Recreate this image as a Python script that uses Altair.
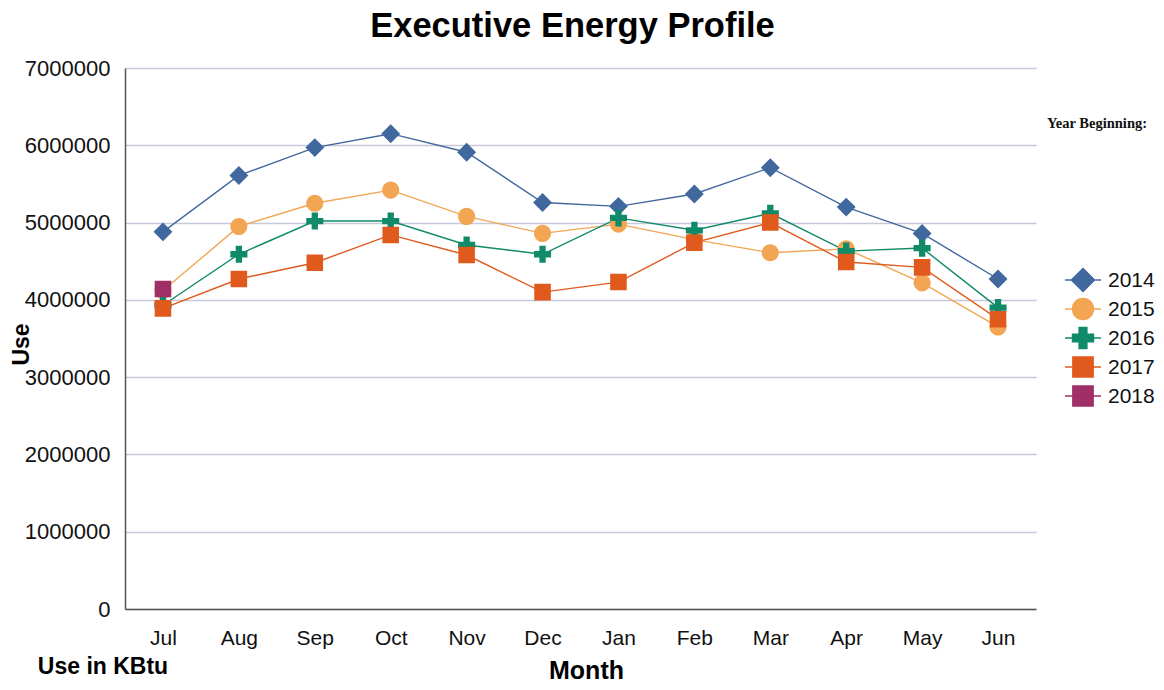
import altair as alt
import pandas as pd

months = ["Jul", "Aug", "Sep", "Oct", "Nov", "Dec", "Jan", "Feb", "Mar", "Apr", "May", "Jun"]
years = ["2014", "2015", "2016", "2017", "2018"]
use_2014 = [4880000, 5610000, 5970000, 6150000, 5910000, 5260000, 5210000, 5370000, 5710000, 5200000, 4860000, 4270000]
use_2015 = [4120000, 4950000, 5250000, 5420000, 5080000, 4860000, 4980000, 4780000, 4610000, 4660000, 4220000, 3650000]
use_2016 = [3930000, 4590000, 5020000, 5020000, 4710000, 4590000, 5060000, 4900000, 5120000, 4630000, 4670000, 3900000]
use_2017 = [3890000, 4270000, 4480000, 4840000, 4580000, 4100000, 4230000, 4740000, 5000000, 4490000, 4420000, 3750000]
use_2018 = [4140000]
colors = ["#41689E", "#F2A553", "#108A68", "#E05A1E", "#A02F67"]
y_ticks = [0, 1000000, 2000000, 3000000, 4000000, 5000000, 6000000, 7000000]

series = [use_2014, use_2015, use_2016, use_2017, use_2018]
rows = []
for yr, vals in zip(years, series):
    for m, v in zip(months, vals):
        rows.append({"Month": m, "Year": yr, "Use": v})
df = pd.DataFrame(rows)
legend_df = pd.DataFrame({"Year": years})

# Marker paths: a horizontal stroke-only segment (visible only where the
# symbol is stroked, i.e. in the legend) plus the filled marker shape.
LINE = "M-1.64,0H1.64"
CIRCLE_BEZ = ("M0.95,0C0.95,0.525 0.525,0.95 0,0.95C-0.525,0.95 -0.95,0.525 -0.95,0"
              "C-0.95,-0.525 -0.525,-0.95 0,-0.95C0.525,-0.95 0.95,-0.525 0.95,0Z")
marker_paths = [
    LINE + "M0,-1.05L1.05,0L0,1.05L-1.05,0Z",
    LINE + CIRCLE_BEZ,
    LINE + "M-0.95,-0.35H-0.35V-0.95H0.35V-0.35H0.95V0.35H0.35V0.95H-0.35V0.35H-0.95Z",
    LINE + "M-0.92,-0.92H0.92V0.92H-0.92Z",
    LINE + "M-0.92,-0.92H0.92V0.92H-0.92Z",
]

FONT = "Liberation Sans"

x_enc = alt.X(
    "Month:N", sort=months, scale=alt.Scale(type="point", padding=0.5),
    axis=alt.Axis(
        title="Month", titleFont=FONT, titleFontSize=25, titleFontWeight="bold",
        titleColor="black", titleX=461, titleY=69, titleBaseline="alphabetic",
        titleAnchor="middle",
        labelFont=FONT, labelFontSize=21, labelColor="#111", labelAngle=0,
        labelBaseline="alphabetic", labelPadding=35, ticks=False, tickSize=0,
        domainColor="#555", domainWidth=1.5, grid=False,
    ),
)
y_enc = alt.Y(
    "Use:Q", scale=alt.Scale(domain=[0, 7000000], nice=False),
    axis=alt.Axis(
        values=y_ticks, format="d", title="Use", titleFont=FONT, titleFontSize=23,
        titleFontWeight="bold", titleColor="black", titleAngle=-90,
        titleX=-97, titleY=276, titleBaseline="alphabetic", titleAlign="center",
        labelFont=FONT, labelFontSize=22, labelColor="#111", labelPadding=15,
        ticks=False, tickSize=0, domainColor="#555", domainWidth=1.5,
        gridColor="#C8C8DC", gridWidth=1.5,
    ),
)
color_scale = alt.Scale(domain=years, range=colors)
shape_scale = alt.Scale(domain=years, range=marker_paths)

base = alt.Chart(df)

lines = base.mark_line(strokeWidth=1.4).encode(
    x=x_enc, y=y_enc,
    color=alt.Color("Year:N", scale=color_scale, legend=None),
    detail="Year:N",
)

points = base.mark_point(filled=True, opacity=1, size=324, strokeWidth=0).encode(
    x=x_enc, y=y_enc,
    fill=alt.Fill("Year:N", scale=color_scale, legend=None),
    stroke=alt.Stroke("Year:N", scale=color_scale, legend=None),
    shape=alt.Shape("Year:N", scale=shape_scale, legend=None),
)

main = alt.layer(lines, points)

# legend built from the year list, placed through its own point scale
leg_y = alt.Y("Year:N", sort=years, axis=None,
              scale=alt.Scale(type="point", domain=years, range=[212, 328], padding=0))
leg_symbols = alt.Chart(legend_df).mark_point(
    filled=True, opacity=1, size=484, strokeWidth=1.5
).encode(
    x=alt.value(958), y=leg_y,
    fill=alt.Fill("Year:N", scale=color_scale, legend=None),
    stroke=alt.Stroke("Year:N", scale=color_scale, legend=None),
    shape=alt.Shape("Year:N", scale=shape_scale, legend=None),
)
leg_labels = alt.Chart(legend_df).mark_text(
    font=FONT, fontSize=21, color="#111", align="left", baseline="middle", dy=1,
).encode(x=alt.value(983), y=leg_y, text="Year:N")
legend_group = alt.layer(leg_symbols, leg_labels)

kbtu = alt.Chart(pd.DataFrame({"t": ["Use in KBtu"]})).mark_text(
    font=FONT, fontSize=23, fontWeight="bold", color="black", align="center",
    baseline="alphabetic",
).encode(text="t:N", x=alt.value(-22), y=alt.value(606))

yb = alt.Chart(pd.DataFrame({"t": ["Year Beginning:"]})).mark_text(
    font="Liberation Serif", fontSize=14.5, fontWeight="bold", color="#111",
    align="left", baseline="alphabetic",
).encode(text="t:N", x=alt.value(922), y=alt.value(60))

chart = alt.layer(main, legend_group, kbtu, yb).resolve_scale(y="independent").properties(
    width=911, height=541,
    title=alt.TitleParams(
        "Executive Energy Profile", font=FONT, fontSize=34.5, fontWeight="bold",
        color="black", anchor="middle", offset=-14, dx=-8, baseline="alphabetic",
    ),
    autosize=alt.AutoSizeParams(type="none"),
    padding={"left": 117, "top": 60, "right": 120, "bottom": 70},
).configure(background="white").configure_view(stroke=None)

chart.save("out.html", embed_options={"renderer": "svg", "actions": False})
